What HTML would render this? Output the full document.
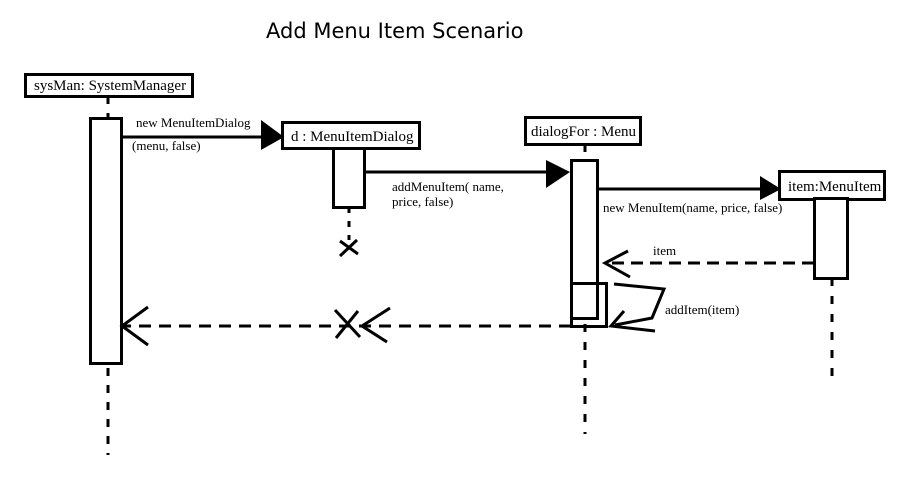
<!DOCTYPE html>
<html><head><meta charset="utf-8"><style>
html,body{margin:0;padding:0;background:#fff;}
svg{display:block;}
.t{font-family:"Liberation Serif",serif;font-size:13px;fill:#000;}
.b{font-family:"Liberation Serif",serif;font-size:15px;fill:#000;}
</style></head><body>
<svg width="923" height="486" viewBox="0 0 923 486" xmlns="http://www.w3.org/2000/svg">
<text x="266" y="38" font-family="DejaVu Sans,sans-serif" font-size="21">Add Menu Item Scenario</text>
<g fill="none" stroke="#000" stroke-width="3">
<line x1="108" y1="96" x2="108" y2="455" stroke-dasharray="8,9"/>
<line x1="349" y1="207" x2="349" y2="240" stroke-dasharray="6,8"/>
<line x1="585" y1="144" x2="585" y2="434" stroke-dasharray="8,10"/>
<line x1="832" y1="278" x2="832" y2="378" stroke-dasharray="8,10"/>
<rect x="25.5" y="74.5" width="167" height="22" fill="#fff"/>
<rect x="282.5" y="122.5" width="137" height="26" fill="#fff"/>
<rect x="525.5" y="117.5" width="115" height="27" fill="#fff"/>
<rect x="779.5" y="171.5" width="105" height="28" fill="#fff"/>
<rect x="90.5" y="118.5" width="31" height="245" fill="#fff"/>
<rect x="333.5" y="148.5" width="31" height="59" fill="#fff"/>
<rect x="571.5" y="160.5" width="26" height="158" fill="#fff"/>
<rect x="571.5" y="283.5" width="35" height="43"/>
<rect x="814.5" y="198.5" width="33" height="80" fill="#fff"/>
<line x1="121" y1="137" x2="265" y2="137"/>
<line x1="364" y1="172" x2="550" y2="172"/>
<line x1="597" y1="189" x2="762" y2="189"/>
<line x1="814" y1="263" x2="607" y2="263" stroke-dasharray="12,7"/>
<polyline points="628,251 605,263 630,277"/>
<polyline points="614,284 664,289 652,318 615,325"/>
<polyline points="624,311 611,326 655,331"/>
<line x1="571" y1="326" x2="123" y2="326" stroke-dasharray="12,8"/>
<polyline points="148,307 122,326 148,345"/>
<polyline points="390,308 362,326 387,342"/>
<line x1="335" y1="310" x2="360" y2="337"/>
<line x1="336" y1="338" x2="358" y2="311"/>
<line x1="340" y1="241" x2="358" y2="254"/>
<line x1="340" y1="256" x2="357" y2="240"/>
</g>
<polygon points="261,120 284,137 261,150" fill="#000"/>
<polygon points="546,160 570,172 546,188" fill="#000"/>
<polygon points="760,176 781,189 760,200" fill="#000"/>
<text class="b" x="34" y="90">sysMan: SystemManager</text>
<text class="b" x="291" y="141">d : MenuItemDialog</text>
<text class="b" x="531" y="136">dialogFor : Menu</text>
<text class="b" x="788" y="191">item:MenuItem</text>
<text class="t" x="136" y="127">new MenuItemDialog</text>
<text class="t" x="132" y="150">(menu, false)</text>
<text class="t" x="392" y="191">addMenuItem( name,</text>
<text class="t" x="392" y="206">price, false)</text>
<text class="t" x="603" y="212">new MenuItem(name, price, false)</text>
<text class="t" x="653" y="255">item</text>
<text class="t" x="665" y="314">addItem(item)</text>
</svg>
</body></html>
